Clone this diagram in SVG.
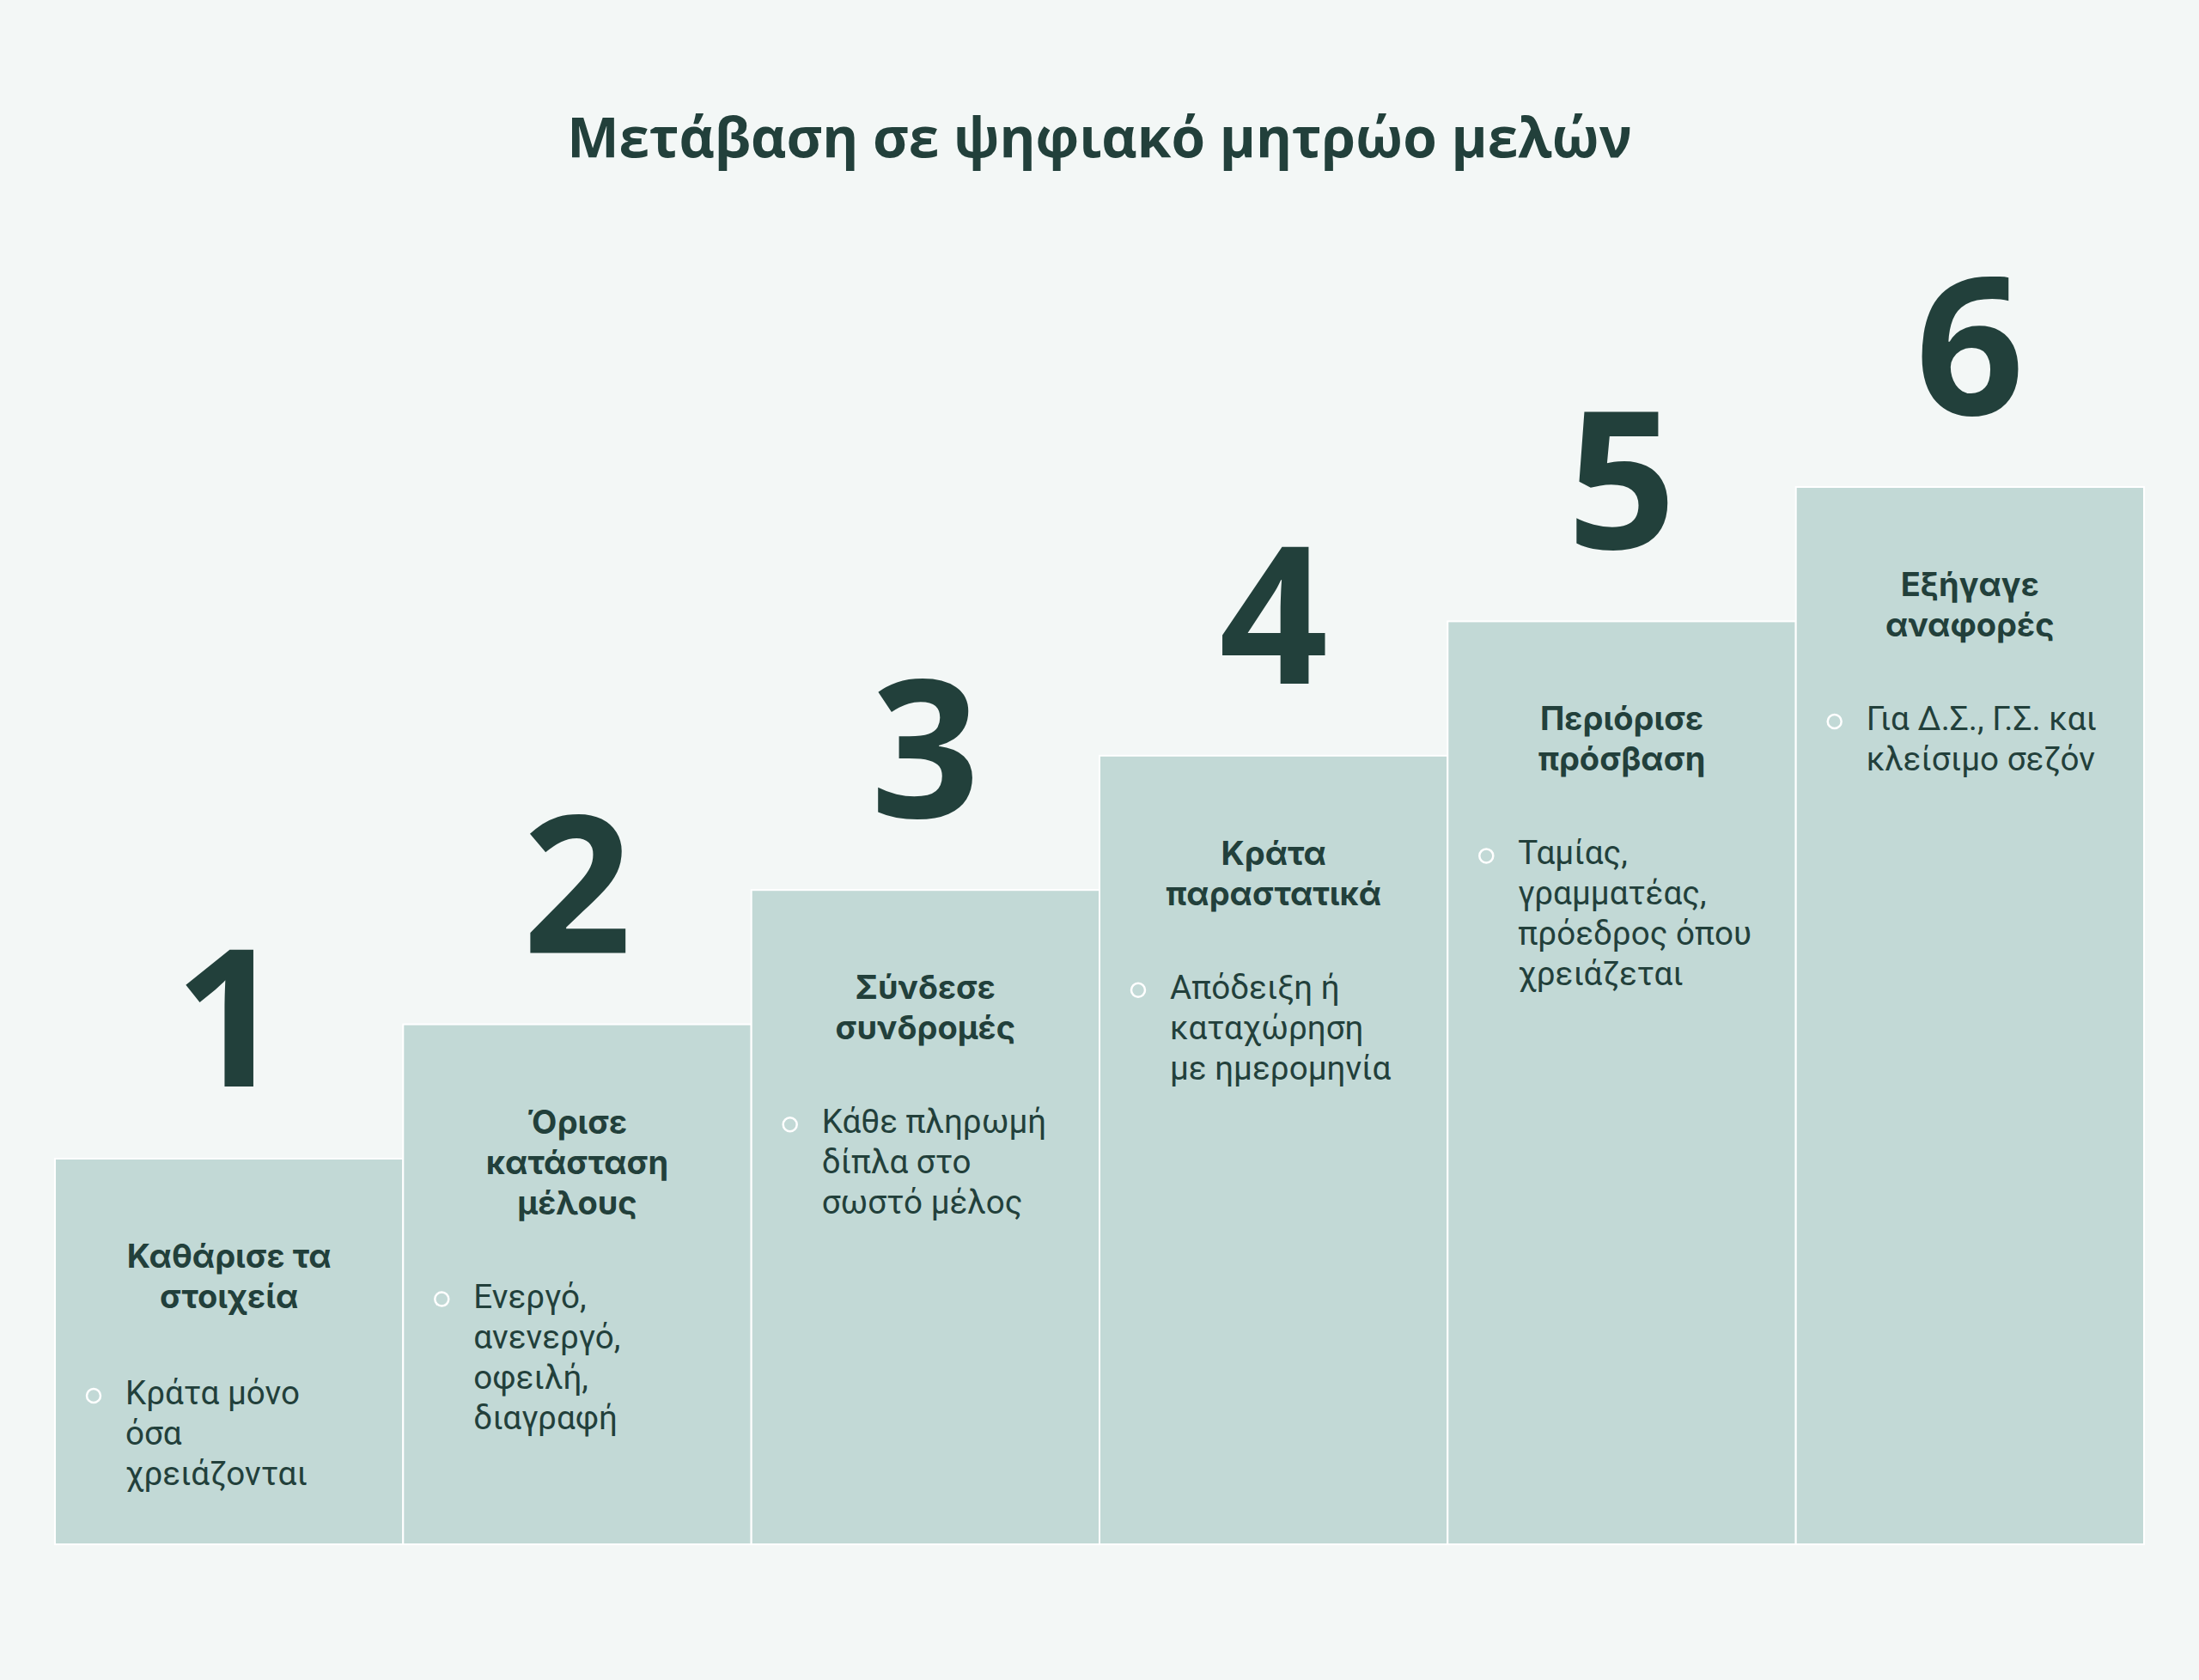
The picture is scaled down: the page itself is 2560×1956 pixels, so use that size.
<svg xmlns="http://www.w3.org/2000/svg" width="2560" height="1956" viewBox="0 0 2560 1956">
<style>
.bg{fill:#f3f7f6}
.box{fill:#c2d9d6;stroke:#ffffff;stroke-width:2}
.title{font-family:"Open Sans","Noto Sans",sans-serif;font-weight:700;font-size:64px;fill:#22403b;text-anchor:middle}
.num{font-family:"Open Sans","Noto Sans",sans-serif;font-weight:700;font-size:222px;fill:#22403b;text-anchor:middle}
.head{font-family:Inter,"Noto Sans",sans-serif;font-weight:700;font-size:38px;fill:#22403b;text-anchor:middle}
.body{font-family:Roboto,"Noto Sans",sans-serif;font-weight:400;font-size:38.6px;fill:#22403b}
.dot{fill:none;stroke:#ffffff;stroke-width:2.5}
</style>
<rect class="bg" x="0" y="0" width="2560" height="1956"/>
<text class="title" x="1280" y="183">Μετάβαση σε ψηφιακό μητρώο μελών</text>
<g id="connectors"></g>
<g id="step1">
<rect class="box" x="64" y="1349" width="405.3" height="449"/>
<text class="num" x="266.7" y="1265">1</text>
<text class="head" x="266.7" y="1476">Καθάρισε τα</text>
<text class="head" x="266.7" y="1523">στοιχεία</text>
<circle class="dot" cx="109" cy="1625" r="8"/>
<text class="body" x="146" y="1635">Κράτα μόνο</text>
<text class="body" x="146" y="1682">όσα</text>
<text class="body" x="146" y="1729">χρειάζονται</text>
</g>
<g id="step2">
<rect class="box" x="469.3" y="1192.6" width="405.3" height="605.4"/>
<text class="num" x="672" y="1108.6">2</text>
<text class="head" x="672" y="1319.6">Όρισε</text>
<text class="head" x="672" y="1366.6">κατάσταση</text>
<text class="head" x="672" y="1413.6">μέλους</text>
<circle class="dot" cx="514.3" cy="1512.6" r="8"/>
<text class="body" x="551.3" y="1522.6">Ενεργό,</text>
<text class="body" x="551.3" y="1569.6">ανενεργό,</text>
<text class="body" x="551.3" y="1616.6">οφειλή,</text>
<text class="body" x="551.3" y="1663.6">διαγραφή</text>
</g>
<g id="step3">
<rect class="box" x="874.7" y="1036.2" width="405.3" height="761.8"/>
<text class="num" x="1077.3" y="952.2">3</text>
<text class="head" x="1077.3" y="1163.2">Σύνδεσε</text>
<text class="head" x="1077.3" y="1210.2">συνδρομές</text>
<circle class="dot" cx="919.7" cy="1309.2" r="8"/>
<text class="body" x="956.7" y="1319.2">Κάθε πληρωμή</text>
<text class="body" x="956.7" y="1366.2">δίπλα στο</text>
<text class="body" x="956.7" y="1413.2">σωστό μέλος</text>
</g>
<g id="step4">
<rect class="box" x="1280" y="879.8" width="405.3" height="918.2"/>
<text class="num" x="1482.7" y="795.8">4</text>
<text class="head" x="1482.7" y="1006.8">Κράτα</text>
<text class="head" x="1482.7" y="1053.8">παραστατικά</text>
<circle class="dot" cx="1325" cy="1152.8" r="8"/>
<text class="body" x="1362" y="1162.8">Απόδειξη ή</text>
<text class="body" x="1362" y="1209.8">καταχώρηση</text>
<text class="body" x="1362" y="1256.8">με ημερομηνία</text>
</g>
<g id="step5">
<rect class="box" x="1685.3" y="723.4" width="405.3" height="1074.6"/>
<text class="num" x="1888" y="639.4">5</text>
<text class="head" x="1888" y="850.4">Περιόρισε</text>
<text class="head" x="1888" y="897.4">πρόσβαση</text>
<circle class="dot" cx="1730.3" cy="996.4" r="8"/>
<text class="body" x="1767.3" y="1006.4">Ταμίας,</text>
<text class="body" x="1767.3" y="1053.4">γραμματέας,</text>
<text class="body" x="1767.3" y="1100.4">πρόεδρος όπου</text>
<text class="body" x="1767.3" y="1147.4">χρειάζεται</text>
</g>
<g id="step6">
<rect class="box" x="2090.7" y="567" width="405.3" height="1231"/>
<text class="num" x="2293.3" y="483">6</text>
<text class="head" x="2293.3" y="694">Εξήγαγε</text>
<text class="head" x="2293.3" y="741">αναφορές</text>
<circle class="dot" cx="2135.7" cy="840" r="8"/>
<text class="body" x="2172.7" y="850">Για Δ.Σ., Γ.Σ. και</text>
<text class="body" x="2172.7" y="897">κλείσιμο σεζόν</text>
</g>
</svg>
